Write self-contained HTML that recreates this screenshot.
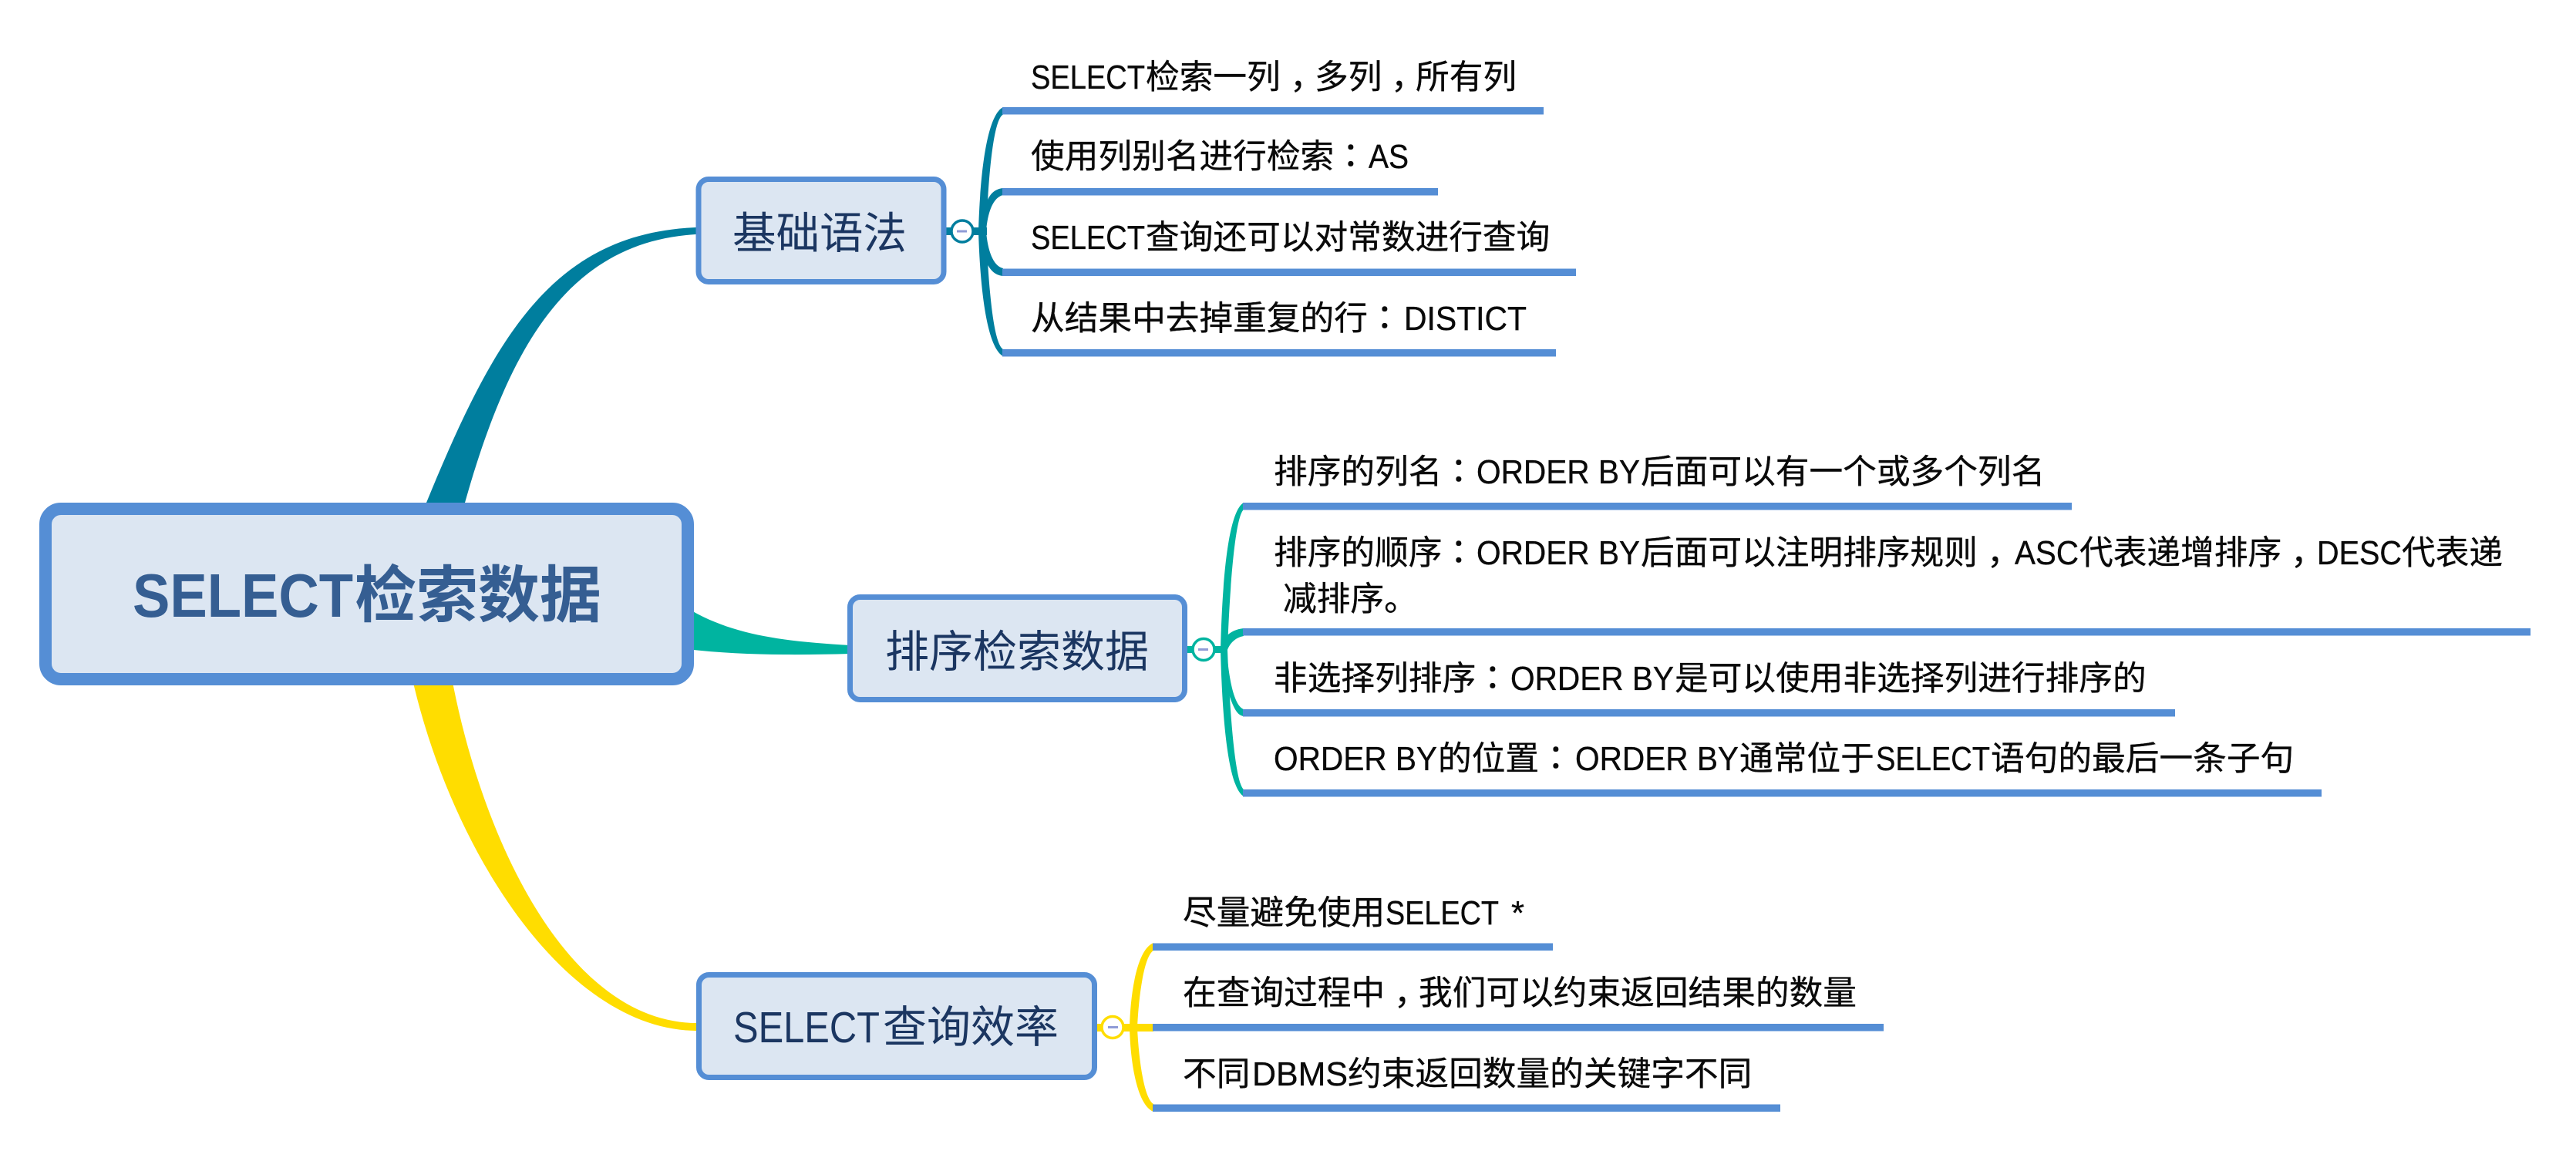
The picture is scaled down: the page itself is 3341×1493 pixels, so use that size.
<!DOCTYPE html>
<html>
<head>
<meta charset="utf-8">
<title>SELECT检索数据</title>
<style>
html,body{margin:0;padding:0;background:#fff;width:3341px;height:1493px;overflow:hidden}
svg{display:block}
text{font-family:"Liberation Sans","Noto Sans CJK SC",sans-serif;white-space:pre}
.t{font-size:43.7px;fill:#0a0a0a;stroke:#0a0a0a;stroke-width:.35px}
.b{font-size:57px;fill:#1b3661}
.r{font-size:80px;font-weight:700;fill:#355e92}
.p{font-family:"Liberation Sans","Noto Sans CJK TC",sans-serif}
.box{fill:#dce6f2;stroke:#558ed5}
.bar{fill:#558ed5}
</style>
</head>
<body>
<svg xmlns="http://www.w3.org/2000/svg" width="3341" height="1493" viewBox="0 0 3341 1493">
<rect width="3341" height="1493" fill="#fff"/>

<!-- main connectors -->
<path fill="#007e9e" d="M550,662 L553,652 C640,440 715,303 902,295 L908,295 L908,304 L902,304 C737,314 660,450 603,652 L600,662 Z"/>
<path fill="#00b4a0" d="M890,788 C950,825 1020,832 1103,837 L1103,848 C1030,850 960,850 890,842 Z"/>
<path fill="#ffdd00" d="M534,880 L537,890 C590,1110 735,1335 902,1337 L908,1337 L908,1327 L902,1327 C740,1325 630,1100 588,890 L586,880 Z"/>

<!-- group 1 branches -->
<g fill="#007e9e">
<rect x="1226" y="295" width="54" height="10"/>
<path d="M1269,300 C1271,230 1279,150 1301,139 L1301,148.500 C1288,155 1282,230 1279,300 Z"/>
<path d="M1278,268 C1282,252 1290,245 1301,244 L1301,253 C1288,256 1281,275 1279,300 Z"/>
<path d="M1279,300 C1281,325 1288,345 1301,348 L1301,358 C1290,357 1283,350 1277,335 Z"/>
<path d="M1269,300 C1271,370 1279,450 1301,462 L1301,453 C1288,445 1282,370 1279,300 Z"/>
</g>
<!-- group 2 branches -->
<g fill="#00b4a0">
<rect x="1538" y="838" width="52" height="9"/>
<path d="M1583,843 C1585,760 1592,664 1613,652 L1613,661 C1602,670 1595,760 1592,843 Z"/>
<path d="M1590,826 C1596,819 1604,816 1613,815 L1613,825 C1602,827 1594,835 1591,846 Z"/>
<path d="M1591,845 C1594,880 1600,915 1613,920 L1613,929 C1605,928 1600,920 1592,895 Z"/>
<path d="M1583,843 C1585,926 1592,1021 1613,1033 L1613,1024 C1602,1015 1595,926 1592,843 Z"/>
</g>
<!-- group 3 branches -->
<g fill="#ffdd00">
<rect x="1423" y="1328" width="73" height="10"/>
<path d="M1465,1333 C1466,1290 1474,1232 1496,1223 L1496,1233 C1484,1240 1477,1290 1475,1333 Z"/>
<path d="M1465,1333 C1466,1376 1474,1433 1496,1442 L1496,1432 C1484,1425 1477,1376 1475,1333 Z"/>
</g>

<!-- nodes -->
<rect class="box" x="59" y="660" width="833" height="221" rx="20" stroke-width="16"/>
<rect class="box" x="906" y="232.5" width="318" height="133" rx="13" stroke-width="7"/>
<rect class="box" x="1102.5" y="774.5" width="434" height="133" rx="13" stroke-width="7"/>
<rect class="box" x="906.5" y="1264.5" width="513" height="133" rx="13" stroke-width="7"/>

<!-- collapse markers -->
<g fill="#fff" stroke-width="3.5">
<circle cx="1248" cy="300" r="14" stroke="#007e9e"/>
<circle cx="1561" cy="842.500" r="14" stroke="#00b4a0"/>
<circle cx="1443" cy="1332.500" r="14" stroke="#ffdd00"/>
</g>
<g fill="#8f9bd6">
<rect x="1241" y="298.500" width="13" height="3"/>
<rect x="1554" y="841" width="13" height="3"/>
<rect x="1437" y="1331" width="13" height="3"/>
</g>

<!-- bars -->
<rect class="bar" x="1300" y="139" width="702" height="9.5"/>
<rect class="bar" x="1300" y="244" width="565" height="9.5"/>
<rect class="bar" x="1300" y="348.500" width="744" height="9.5"/>
<rect class="bar" x="1300" y="453" width="718" height="9.5"/>

<rect class="bar" x="1612" y="652" width="1075" height="9.500"/>
<rect class="bar" x="1612" y="815" width="1670" height="9.5"/>
<rect class="bar" x="1612" y="920" width="1209" height="9.5"/>
<rect class="bar" x="1612" y="1024" width="1399" height="9.5"/>

<rect class="bar" x="1495" y="1223.500" width="519" height="9.5"/>
<rect class="bar" x="1495" y="1328" width="948" height="9.5"/>
<rect class="bar" x="1495" y="1432.500" width="814" height="9.5"/>

<!-- node text -->
<text class="r" y="800"><tspan x="172" textLength="286" lengthAdjust="spacingAndGlyphs">SELECT</tspan><tspan x="460">检索数据</tspan></text>
<text class="b" x="950" y="322" style="font-size:56.5px">基础语法</text>
<text class="b" x="1148" y="865">排序检索数据</text>
<text class="b" y="1352"><tspan x="951" textLength="190" lengthAdjust="spacingAndGlyphs">SELECT</tspan><tspan x="1145">查询效率</tspan></text>

<!-- group 1 text -->
<text class="t" y="115"><tspan x="1337" textLength="148" lengthAdjust="spacingAndGlyphs">SELECT</tspan><tspan x="1486">检索一列</tspan><tspan x="1673">，</tspan><tspan x="1705">多列</tspan><tspan x="1804">，</tspan><tspan x="1836">所有列</tspan></text>
<text class="t" y="218"><tspan x="1337">使用列别名进行检索</tspan><tspan class="p" lang="zh-TW" x="1730">：</tspan><tspan x="1775" textLength="52" lengthAdjust="spacingAndGlyphs">AS</tspan></text>
<text class="t" y="323"><tspan x="1337" textLength="148" lengthAdjust="spacingAndGlyphs">SELECT</tspan><tspan x="1486">查询还可以对常数进行查询</tspan></text>
<text class="t" y="428"><tspan x="1337">从结果中去掉重复的行</tspan><tspan class="p" lang="zh-TW" x="1774">：</tspan><tspan x="1821" textLength="159" lengthAdjust="spacingAndGlyphs">DISTICT</tspan></text>

<!-- group 2 text -->
<text class="t" y="627"><tspan x="1652">排序的列名</tspan><tspan class="p" lang="zh-TW" x="1870">：</tspan><tspan x="1915" textLength="212" lengthAdjust="spacingAndGlyphs">ORDER BY</tspan><tspan x="2128">后面可以有一个或多个列名</tspan></text>
<text class="t" y="732"><tspan x="1652">排序的顺序</tspan><tspan class="p" lang="zh-TW" x="1870">：</tspan><tspan x="1915" textLength="212" lengthAdjust="spacingAndGlyphs">ORDER BY</tspan><tspan x="2128">后面可以注明排序规则</tspan><tspan x="2577">，</tspan><tspan x="2613" textLength="83" lengthAdjust="spacingAndGlyphs">ASC</tspan><tspan x="2697">代表递增排序</tspan><tspan x="2971">，</tspan><tspan x="3005" textLength="110" lengthAdjust="spacingAndGlyphs">DESC</tspan><tspan x="3115">代表递</tspan></text>
<text class="t" x="1664" y="792">减排序。</text>
<text class="t" y="895"><tspan x="1652">非选择列排序</tspan><tspan class="p" lang="zh-TW" x="1914">：</tspan><tspan x="1959" textLength="212" lengthAdjust="spacingAndGlyphs">ORDER BY</tspan><tspan x="2172">是可以使用非选择列进行排序的</tspan></text>
<text class="t" y="999"><tspan x="1652" textLength="212" lengthAdjust="spacingAndGlyphs">ORDER BY</tspan><tspan x="1865">的位置</tspan><tspan class="p" lang="zh-TW" x="1996">：</tspan><tspan x="2043" textLength="212" lengthAdjust="spacingAndGlyphs">ORDER BY</tspan><tspan x="2256">通常位于</tspan><tspan x="2433" textLength="148" lengthAdjust="spacingAndGlyphs">SELECT</tspan><tspan x="2582">语句的最后一条子句</tspan></text>

<!-- group 3 text -->
<text class="t" y="1199"><tspan x="1534">尽量避免使用</tspan><tspan x="1797" textLength="147" lengthAdjust="spacingAndGlyphs">SELECT</tspan><tspan x="1960">*</tspan></text>
<text class="t" y="1303"><tspan x="1534">在查询过程中</tspan><tspan x="1808">，</tspan><tspan x="1840">我们可以约束返回结果的数量</tspan></text>
<text class="t" y="1408"><tspan x="1534">不同</tspan><tspan x="1624" textLength="124" lengthAdjust="spacingAndGlyphs">DBMS</tspan><tspan x="1748">约束返回数量的关键字不同</tspan></text>
</svg>
</body>
</html>
